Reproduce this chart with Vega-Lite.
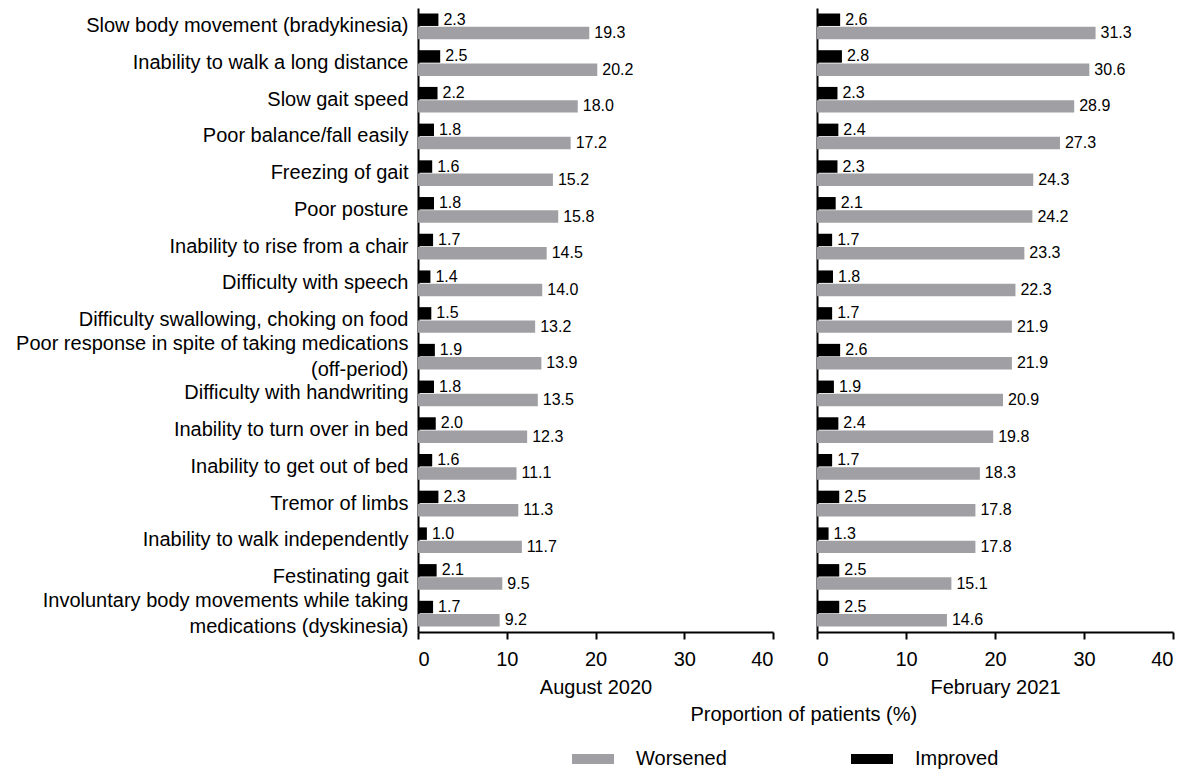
{
  "$schema": "https://vega.github.io/schema/vega-lite/v6.json",
  "background": "white",
  "padding": {"left": 15, "top": 8, "right": 9, "bottom": 0},
  "config": {
    "font": "Liberation Sans",
    "view": {"stroke": null},
    "axis": {
      "domainColor": "black",
      "domainWidth": 2,
      "tickColor": "black",
      "tickWidth": 2,
      "labelColor": "black",
      "titleColor": "black",
      "labelFont": "Liberation Sans",
      "titleFont": "Liberation Sans",
      "grid": false
    },
    "legend": {"labelFont": "Liberation Sans", "labelColor": "black"},
    "title": {"font": "Liberation Sans", "color": "black"}
  },
  "title": {
    "text": "Proportion of patients (%)",
    "orient": "bottom",
    "anchor": "middle",
    "fontSize": 20,
    "fontWeight": "normal",
    "offset": -64,
    "dx": 209
  },
  "datasets": {
    "symptoms": [
      {"symptom": "Slow body movement (bradykinesia)", "period": "August 2020", "status": "Worsened", "value": 19.3},
      {"symptom": "Slow body movement (bradykinesia)", "period": "August 2020", "status": "Improved", "value": 2.3},
      {"symptom": "Slow body movement (bradykinesia)", "period": "February 2021", "status": "Worsened", "value": 31.3},
      {"symptom": "Slow body movement (bradykinesia)", "period": "February 2021", "status": "Improved", "value": 2.6},
      {"symptom": "Inability to walk a long distance", "period": "August 2020", "status": "Worsened", "value": 20.2},
      {"symptom": "Inability to walk a long distance", "period": "August 2020", "status": "Improved", "value": 2.5},
      {"symptom": "Inability to walk a long distance", "period": "February 2021", "status": "Worsened", "value": 30.6},
      {"symptom": "Inability to walk a long distance", "period": "February 2021", "status": "Improved", "value": 2.8},
      {"symptom": "Slow gait speed", "period": "August 2020", "status": "Worsened", "value": 18.0},
      {"symptom": "Slow gait speed", "period": "August 2020", "status": "Improved", "value": 2.2},
      {"symptom": "Slow gait speed", "period": "February 2021", "status": "Worsened", "value": 28.9},
      {"symptom": "Slow gait speed", "period": "February 2021", "status": "Improved", "value": 2.3},
      {"symptom": "Poor balance/fall easily", "period": "August 2020", "status": "Worsened", "value": 17.2},
      {"symptom": "Poor balance/fall easily", "period": "August 2020", "status": "Improved", "value": 1.8},
      {"symptom": "Poor balance/fall easily", "period": "February 2021", "status": "Worsened", "value": 27.3},
      {"symptom": "Poor balance/fall easily", "period": "February 2021", "status": "Improved", "value": 2.4},
      {"symptom": "Freezing of gait", "period": "August 2020", "status": "Worsened", "value": 15.2},
      {"symptom": "Freezing of gait", "period": "August 2020", "status": "Improved", "value": 1.6},
      {"symptom": "Freezing of gait", "period": "February 2021", "status": "Worsened", "value": 24.3},
      {"symptom": "Freezing of gait", "period": "February 2021", "status": "Improved", "value": 2.3},
      {"symptom": "Poor posture", "period": "August 2020", "status": "Worsened", "value": 15.8},
      {"symptom": "Poor posture", "period": "August 2020", "status": "Improved", "value": 1.8},
      {"symptom": "Poor posture", "period": "February 2021", "status": "Worsened", "value": 24.2},
      {"symptom": "Poor posture", "period": "February 2021", "status": "Improved", "value": 2.1},
      {"symptom": "Inability to rise from a chair", "period": "August 2020", "status": "Worsened", "value": 14.5},
      {"symptom": "Inability to rise from a chair", "period": "August 2020", "status": "Improved", "value": 1.7},
      {"symptom": "Inability to rise from a chair", "period": "February 2021", "status": "Worsened", "value": 23.3},
      {"symptom": "Inability to rise from a chair", "period": "February 2021", "status": "Improved", "value": 1.7},
      {"symptom": "Difficulty with speech", "period": "August 2020", "status": "Worsened", "value": 14.0},
      {"symptom": "Difficulty with speech", "period": "August 2020", "status": "Improved", "value": 1.4},
      {"symptom": "Difficulty with speech", "period": "February 2021", "status": "Worsened", "value": 22.3},
      {"symptom": "Difficulty with speech", "period": "February 2021", "status": "Improved", "value": 1.8},
      {"symptom": "Difficulty swallowing, choking on food", "period": "August 2020", "status": "Worsened", "value": 13.2},
      {"symptom": "Difficulty swallowing, choking on food", "period": "August 2020", "status": "Improved", "value": 1.5},
      {"symptom": "Difficulty swallowing, choking on food", "period": "February 2021", "status": "Worsened", "value": 21.9},
      {"symptom": "Difficulty swallowing, choking on food", "period": "February 2021", "status": "Improved", "value": 1.7},
      {"symptom": "Poor response in spite of taking medications|(off-period)", "period": "August 2020", "status": "Worsened", "value": 13.9},
      {"symptom": "Poor response in spite of taking medications|(off-period)", "period": "August 2020", "status": "Improved", "value": 1.9},
      {"symptom": "Poor response in spite of taking medications|(off-period)", "period": "February 2021", "status": "Worsened", "value": 21.9},
      {"symptom": "Poor response in spite of taking medications|(off-period)", "period": "February 2021", "status": "Improved", "value": 2.6},
      {"symptom": "Difficulty with handwriting", "period": "August 2020", "status": "Worsened", "value": 13.5},
      {"symptom": "Difficulty with handwriting", "period": "August 2020", "status": "Improved", "value": 1.8},
      {"symptom": "Difficulty with handwriting", "period": "February 2021", "status": "Worsened", "value": 20.9},
      {"symptom": "Difficulty with handwriting", "period": "February 2021", "status": "Improved", "value": 1.9},
      {"symptom": "Inability to turn over in bed", "period": "August 2020", "status": "Worsened", "value": 12.3},
      {"symptom": "Inability to turn over in bed", "period": "August 2020", "status": "Improved", "value": 2.0},
      {"symptom": "Inability to turn over in bed", "period": "February 2021", "status": "Worsened", "value": 19.8},
      {"symptom": "Inability to turn over in bed", "period": "February 2021", "status": "Improved", "value": 2.4},
      {"symptom": "Inability to get out of bed", "period": "August 2020", "status": "Worsened", "value": 11.1},
      {"symptom": "Inability to get out of bed", "period": "August 2020", "status": "Improved", "value": 1.6},
      {"symptom": "Inability to get out of bed", "period": "February 2021", "status": "Worsened", "value": 18.3},
      {"symptom": "Inability to get out of bed", "period": "February 2021", "status": "Improved", "value": 1.7},
      {"symptom": "Tremor of limbs", "period": "August 2020", "status": "Worsened", "value": 11.3},
      {"symptom": "Tremor of limbs", "period": "August 2020", "status": "Improved", "value": 2.3},
      {"symptom": "Tremor of limbs", "period": "February 2021", "status": "Worsened", "value": 17.8},
      {"symptom": "Tremor of limbs", "period": "February 2021", "status": "Improved", "value": 2.5},
      {"symptom": "Inability to walk independently", "period": "August 2020", "status": "Worsened", "value": 11.7},
      {"symptom": "Inability to walk independently", "period": "August 2020", "status": "Improved", "value": 1.0},
      {"symptom": "Inability to walk independently", "period": "February 2021", "status": "Worsened", "value": 17.8},
      {"symptom": "Inability to walk independently", "period": "February 2021", "status": "Improved", "value": 1.3},
      {"symptom": "Festinating gait", "period": "August 2020", "status": "Worsened", "value": 9.5},
      {"symptom": "Festinating gait", "period": "August 2020", "status": "Improved", "value": 2.1},
      {"symptom": "Festinating gait", "period": "February 2021", "status": "Worsened", "value": 15.1},
      {"symptom": "Festinating gait", "period": "February 2021", "status": "Improved", "value": 2.5},
      {"symptom": "Involuntary body movements while taking|medications (dyskinesia)", "period": "August 2020", "status": "Worsened", "value": 9.2},
      {"symptom": "Involuntary body movements while taking|medications (dyskinesia)", "period": "August 2020", "status": "Improved", "value": 1.7},
      {"symptom": "Involuntary body movements while taking|medications (dyskinesia)", "period": "February 2021", "status": "Worsened", "value": 14.6},
      {"symptom": "Involuntary body movements while taking|medications (dyskinesia)", "period": "February 2021", "status": "Improved", "value": 2.5}
    ]
  },
  "data": {"name": "symptoms"},
  "spacing": 42,
  "hconcat": [
    {
      "width": 355,
      "height": 624,
      "transform": [{"filter": "datum.period === 'August 2020'"}],
      "encoding": {
        "y": {
          "field": "symptom",
          "type": "nominal",
          "sort": null,
          "scale": {"paddingInner": 0.3, "paddingOuter": 0.15},
          "axis": {
            "title": null,
            "ticks": false,
            "labelFontSize": 20,
            "labelPadding": 10,
            "labelLimit": 500,
            "labelLineHeight": 26,
            "labelOffset": {"condition": {"test": "indexof(datum.value, '|') >= 0", "value": -13}, "value": 0},
            "labelExpr": "split(datum.label, '|')"
          }
        },
        "yOffset": {
          "field": "status",
          "type": "nominal",
          "sort": ["Improved", "Worsened"],
          "scale": {"paddingInner": 0.06}
        },
        "x": {
          "field": "value",
          "type": "quantitative",
          "scale": {"domain": [0, 40]},
          "axis": {
            "title": "August 2020",
            "values": [0, 10, 20, 30, 40],
            "tickSize": 7,
            "labelFontSize": 20,
            "labelPadding": 10,
            "titleFontSize": 20,
            "titleFontWeight": "normal",
            "titlePadding": 8
          }
        }
      },
      "layer": [
        {
          "mark": {"type": "bar"},
          "encoding": {
            "color": {
              "field": "status",
              "type": "nominal",
              "scale": {"domain": ["Worsened", "Improved"], "range": ["#a0a0a4", "#000000"]},
              "legend": {
                "title": null,
                "orient": "none",
                "legendX": 154,
                "legendY": 730,
                "direction": "horizontal",
                "labelFontSize": 20,
                "symbolType": "M-1,-0.24H1V0.24H-1Z",
                "symbolSize": 1764,
                "symbolOpacity": 1,
                "symbolStrokeWidth": 0,
                "labelOffset": 22,
                "columnPadding": 124
              }
            }
          }
        },
        {
          "mark": {"type": "text", "align": "left", "baseline": "middle", "dx": 5, "fontSize": 16, "color": "black"},
          "encoding": {"text": {"field": "value", "type": "quantitative", "format": ".1f"}}
        }
      ]
    },
    {
      "width": 356,
      "height": 624,
      "transform": [{"filter": "datum.period === 'February 2021'"}],
      "encoding": {
        "y": {
          "field": "symptom",
          "type": "nominal",
          "sort": null,
          "scale": {"paddingInner": 0.3, "paddingOuter": 0.15},
          "axis": {"title": null, "ticks": false, "labels": false}
        },
        "yOffset": {
          "field": "status",
          "type": "nominal",
          "sort": ["Improved", "Worsened"],
          "scale": {"paddingInner": 0.06}
        },
        "x": {
          "field": "value",
          "type": "quantitative",
          "scale": {"domain": [0, 40]},
          "axis": {
            "title": "February 2021",
            "values": [0, 10, 20, 30, 40],
            "tickSize": 7,
            "labelFontSize": 20,
            "labelPadding": 10,
            "titleFontSize": 20,
            "titleFontWeight": "normal",
            "titlePadding": 8
          }
        }
      },
      "layer": [
        {
          "mark": {"type": "bar"},
          "encoding": {
            "color": {
              "field": "status",
              "type": "nominal",
              "scale": {"domain": ["Worsened", "Improved"], "range": ["#a0a0a4", "#000000"]}
            }
          }
        },
        {
          "mark": {"type": "text", "align": "left", "baseline": "middle", "dx": 5, "fontSize": 16, "color": "black"},
          "encoding": {"text": {"field": "value", "type": "quantitative", "format": ".1f"}}
        }
      ]
    }
  ]
}
